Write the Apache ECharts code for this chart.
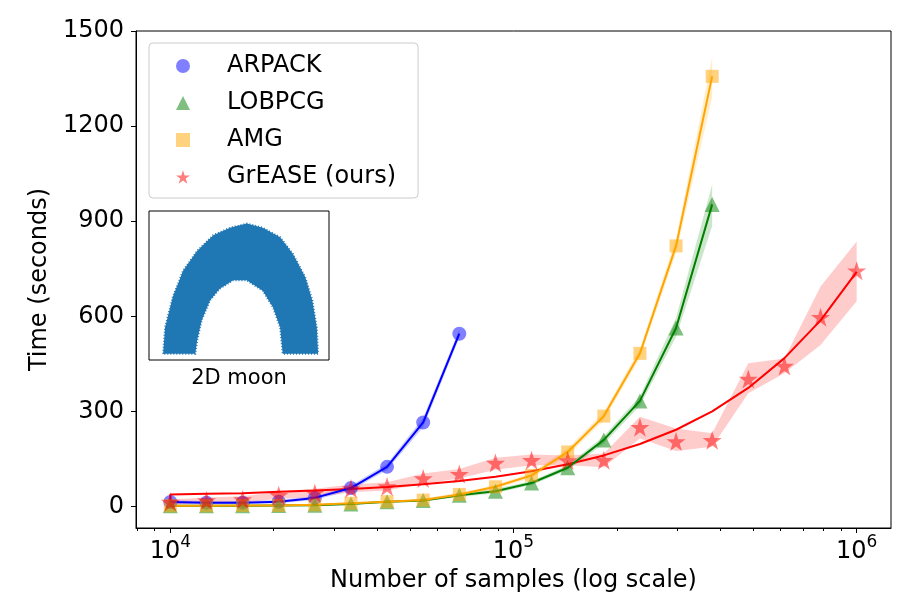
<!DOCTYPE html>
<html>
<head>
<meta charset="utf-8">
<script src="https://cdn.jsdelivr.net/npm/echarts@6/dist/echarts.min.js"></script>
<style>html,body{margin:0;padding:0;background:#fff}#chart{width:900px;height:600px}</style>
</head>
<body>
<div id="chart"></div>
<script>
// sample sizes (log-spaced, 20 points)
var samples = [10000, 12743, 16238, 20691, 26367, 33598, 42813, 54556, 69519, 88587,
    112884, 143845, 183298, 233572, 297635, 379269, 483293, 615848, 784760, 1000000];

var arpackTime = [14, 12, 12, 15, 27, 58, 125, 265, 545];
var arpackLow  = [8, 7, 8, 10, 20, 50, 115, 250, 532];
var arpackHigh = [20, 17, 17, 20, 33, 66, 135, 280, 558];

var lobpcgTime = [2, 2, 2, 3, 4, 8, 15, 19, 35, 48, 74, 122, 210, 333, 563, 953];
var lobpcgLow  = [0, 0, 0, 1, 2, 6, 12, 16, 30, 42, 68, 114, 198, 318, 535, 885];
var lobpcgHigh = [4, 4, 4, 5, 6, 10, 18, 22, 40, 56, 80, 130, 222, 348, 595, 1016];

var amgTime = [2, 2, 3, 3, 5, 10, 15, 20, 38, 62, 98, 172, 285, 483, 822, 1357];
var amgLow  = [0, 0, 1, 1, 3, 7, 12, 16, 33, 56, 90, 160, 272, 468, 800, 1290];
var amgHigh = [4, 4, 5, 6, 8, 13, 18, 25, 43, 68, 106, 184, 298, 498, 845, 1418];

var greaseTime = [14, 19, 22, 35, 42, 57, 63, 88, 102, 137, 146, 145, 146, 250, 205, 209, 402, 443, 597, 744];
var greaseLow  = [6, 10, 12, 24, 28, 45, 50, 72, 88, 116, 130, 130, 124, 214, 175, 188, 357, 420, 509, 647];
var greaseHigh = [22, 28, 32, 46, 56, 69, 76, 104, 118, 154, 164, 161, 167, 283, 246, 231, 452, 467, 694, 836];

// fitted GrEASE curve (first point repeated at 1e4)
var greaseFitSamples = [10000, 10000, 12743, 16238, 20691, 26367, 33598, 42813, 54556, 69519, 88587,
    112884, 143845, 183298, 233572, 297635, 379269, 483293, 615848, 784760, 1000000];
var greaseFit = [14, 38, 40, 42, 46, 50, 55, 61, 70, 80, 94, 111, 133, 161, 197, 242, 300, 374, 468, 587, 740];

var yTicks = [0, 300, 600, 900, 1200, 1500];
var xTicks = [10000, 100000, 1000000];
var xMinorTicks = [8000, 9000, 20000, 30000, 40000, 50000, 60000, 70000, 80000, 90000,
    200000, 300000, 400000, 500000, 600000, 700000, 800000, 900000];

// inset "2D moon" outline
var moonOuterX = [-1.18, -1.15, -1.03, -0.87, -0.65, -0.40, -0.14, 0.12, 0.37, 0.64, 0.84, 1.03, 1.14, 1.21, 1.23];
var moonOuterY = [0.0, 0.25, 0.54, 0.79, 0.98, 1.13, 1.20, 1.24, 1.20, 1.11, 0.95, 0.73, 0.51, 0.25, 0.0];
var moonInnerX = [0.68, 0.64, 0.53, 0.37, 0.12, -0.09, -0.30, -0.45, -0.58, -0.65, -0.68];
var moonInnerY = [0.0, 0.25, 0.44, 0.60, 0.70, 0.70, 0.62, 0.51, 0.32, 0.13, 0.0];

var starPath = 'path://M50,2 L61.8,38 L99.5,38 L69,60.2 L80.7,96.2 L50,74 L19.3,96.2 L31,60.2 L0.5,38 L38.2,38 Z';
var font = 'DejaVu Sans';

function pts(xs, ys) {
    return ys.map(function (y, i) { return [xs[i], y]; });
}

// shaded spread between lo and hi, drawn as one polygon
function band(lo, hi, color) {
    return {
        type: 'custom', data: [[samples[0], lo[0]]], silent: true, z: 1,
        renderItem: function (params, api) {
            var poly = [];
            for (var i = 0; i < hi.length; i++) poly.push(api.coord([samples[i], hi[i]]));
            for (var j = lo.length - 1; j >= 0; j--) poly.push(api.coord([samples[j], lo[j]]));
            return {type: 'polygon', shape: {points: poly}, style: {fill: color, opacity: 0.2}};
        }
    };
}

function mainLine(name, values, color, symbol, size) {
    return {
        name: name, type: 'line', data: pts(samples, values),
        symbol: symbol, symbolSize: size, showAllSymbol: true,
        itemStyle: {color: color, opacity: 0.5},
        lineStyle: {color: color, width: 2},
        z: 3
    };
}

var chart = echarts.init(document.getElementById('chart'));

var series = [
    band(arpackLow, arpackHigh, '#0000ff'),
    band(lobpcgLow, lobpcgHigh, '#008000'),
    band(amgLow, amgHigh, '#ffa500'),
    band(greaseLow, greaseHigh, '#ff0000'),
    mainLine('ARPACK', arpackTime, '#0000ff', 'circle', 14),
    mainLine('LOBPCG', lobpcgTime, '#008000', 'triangle', 15),
    mainLine('AMG', amgTime, '#ffa500', 'rect', 13),
    {
        name: 'grease_fit', type: 'line', data: pts(greaseFitSamples, greaseFit),
        symbol: 'none', lineStyle: {color: '#ff0000', width: 2}, z: 2
    },
    {
        name: 'GrEASE (ours)', type: 'scatter', data: pts(samples, greaseTime),
        symbol: starPath, symbolSize: 19,
        itemStyle: {color: '#ff0000', opacity: 0.5}, z: 3
    },
    {
        name: 'moon', type: 'custom', xAxisIndex: 2, yAxisIndex: 1,
        data: [[0, 0]], silent: true, z: 5,
        renderItem: function (params, api) {
            var poly = [];
            moonOuterX.forEach(function (x, i) { poly.push(api.coord([x, moonOuterY[i]])); });
            moonInnerX.forEach(function (x, i) { poly.push(api.coord([x, moonInnerY[i]])); });
            return {
                type: 'polygon', shape: {points: poly},
                style: {fill: '#1f77b4', stroke: '#1f77b4', lineWidth: 2, lineDash: [1, 2]}
            };
        }
    }
];

var option = {
    animation: false,
    backgroundColor: '#fff',
    textStyle: {fontFamily: font, color: '#000'},
    grid: [
        {left: 136, right: 9, top: 31, bottom: 72, show: true, borderColor: '#000', borderWidth: 1},
        {left: 149, top: 211, width: 180, height: 149, show: true, borderColor: '#000', borderWidth: 1,
         backgroundColor: '#fff', z: 4}
    ],
    legend: {
        orient: 'vertical', left: 149, top: 43,
        padding: [11, 22, 9, 27], itemGap: 13,
        itemWidth: 14, itemHeight: 14,
        borderColor: '#cccccc', borderWidth: 1, borderRadius: 4,
        backgroundColor: 'rgba(255,255,255,0.8)',
        textStyle: {fontFamily: font, fontSize: 24, color: '#000', lineHeight: 24, padding: [0, 0, 0, 32]},
        data: [
            {name: 'ARPACK', icon: 'circle', itemStyle: {opacity: 0.5}},
            {name: 'LOBPCG', icon: 'triangle', itemStyle: {opacity: 0.5}},
            {name: 'AMG', icon: 'rect', itemStyle: {opacity: 0.5}},
            {name: 'GrEASE (ours)', icon: starPath, itemStyle: {opacity: 0.5}}
        ],
        selectedMode: false, z: 10
    },
    xAxis: [{
        type: 'log', gridIndex: 0, min: 7943, max: 1258925,
        name: 'Number of samples (log scale)', nameLocation: 'middle', nameGap: 38,
        nameTextStyle: {fontFamily: font, fontSize: 24, color: '#000'},
        axisLine: {show: true, onZero: false, lineStyle: {color: '#000', width: 1}},
        axisTick: {show: true, length: 5, lineStyle: {color: '#000'}, customValues: xTicks},
        axisLabel: {
            customValues: xTicks, margin: 6,
            formatter: function (v) { return '{b|10}{s|' + Math.round(Math.log10(v)) + '}'; },
            rich: {
                b: {fontFamily: font, fontSize: 24, color: '#000', verticalAlign: 'bottom', lineHeight: 30},
                s: {fontFamily: font, fontSize: 17, color: '#000', verticalAlign: 'top'}
            }
        },
        splitLine: {show: false}
    }, {
        type: 'log', gridIndex: 0, min: 7943, max: 1258925, position: 'bottom',
        axisLine: {show: false, onZero: false},
        axisTick: {show: true, length: 3, lineStyle: {color: '#000'}, customValues: xMinorTicks},
        axisLabel: {show: false},
        splitLine: {show: false}
    }, {
        type: 'value', gridIndex: 1, min: -1.4, max: 1.4,
        name: '2D moon', nameLocation: 'middle', nameGap: 8,
        nameTextStyle: {fontFamily: font, fontSize: 21, color: '#000', verticalAlign: 'top'},
        axisLine: {show: false, onZero: false}, axisTick: {show: false}, axisLabel: {show: false},
        splitLine: {show: false}
    }],
    yAxis: [{
        type: 'value', gridIndex: 0, min: -68, max: 1500,
        name: 'Time (seconds)', nameLocation: 'middle', nameGap: 62,
        nameTextStyle: {fontFamily: font, fontSize: 24, color: '#000'},
        axisLine: {show: true, onZero: false, lineStyle: {color: '#000', width: 1}},
        axisTick: {show: true, length: 5, lineStyle: {color: '#000'}, customValues: yTicks},
        axisLabel: {
            customValues: yTicks, margin: 12, fontFamily: font, fontSize: 24, color: '#000',
            formatter: function (v) { return String(v); }
        },
        splitLine: {show: false}
    }, {
        type: 'value', gridIndex: 1, min: -0.06, max: 1.36,
        axisLine: {show: false, onZero: false}, axisTick: {show: false}, axisLabel: {show: false},
        splitLine: {show: false}
    }],
    series: series
};

chart.setOption(option);
</script>
</body>
</html>
